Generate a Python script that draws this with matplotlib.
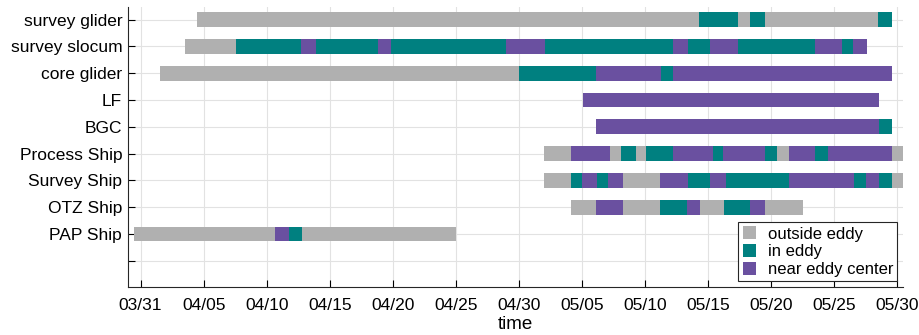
import datetime as dt
import numpy as np
import matplotlib
matplotlib.use("Agg")
import matplotlib.pyplot as plt
import matplotlib.dates as mdates
from matplotlib.patches import Patch

plt.rcParams['font.family'] = ['Liberation Sans', 'DejaVu Sans']

start_date = dt.datetime(2021, 3, 31)

platforms = ["survey glider", "survey slocum", "core glider", "LF", "BGC",
             "Process Ship", "Survey Ship", "OTZ Ship", "PAP Ship"]

# segment edges in days since 03/31, and the state of each segment
# 0 = outside eddy, 1 = in eddy, 2 = near eddy center
edges = {
    "survey glider": [4.5, 44.3, 47.4, 48.3, 49.5, 58.5, 59.6],
    "survey slocum": [3.5, 7.6, 12.7, 13.9, 18.8, 19.9, 29.0, 32.1, 42.2, 43.4,
                      45.2, 47.4, 53.5, 55.6, 56.5, 57.6],
    "core glider": [1.5, 30.0, 36.1, 41.3, 42.2, 59.6],
    "LF": [35.1, 58.6],
    "BGC": [36.1, 58.6, 59.6],
    "Process Ship": [32.0, 34.1, 37.2, 38.1, 39.3, 40.1, 42.2, 45.4, 46.2, 49.5,
                     50.5, 51.4, 53.5, 54.5, 59.6, 60.7],
    "Survey Ship": [32.0, 34.1, 35.0, 36.2, 37.1, 38.3, 41.2, 43.4, 45.2, 46.4,
                    51.4, 56.6, 57.5, 58.6, 59.6, 60.7],
    "OTZ Ship": [34.1, 36.1, 38.3, 41.2, 43.3, 44.4, 46.3, 48.3, 49.5, 52.5],
    "PAP Ship": [-0.55, 10.65, 11.8, 12.8, 25.0],
}
states = {
    "survey glider": [0, 1, 0, 1, 0, 1],
    "survey slocum": [0, 1, 2, 1, 2, 1, 2, 1, 2, 1, 2, 1, 2, 1, 2],
    "core glider": [0, 1, 2, 1, 2],
    "LF": [2],
    "BGC": [2, 1],
    "Process Ship": [0, 2, 0, 1, 0, 1, 2, 1, 2, 1, 0, 2, 1, 2, 0],
    "Survey Ship": [0, 1, 2, 1, 2, 0, 2, 1, 2, 1, 2, 1, 2, 1, 0],
    "OTZ Ship": [0, 2, 0, 1, 2, 0, 1, 2, 0],
    "PAP Ship": [0, 2, 1, 0],
}

state_names = ["outside eddy", "in eddy", "near eddy center"]
state_colors = ["#b0b0b0", "#008080", "#6a50a0"]

fig = plt.figure(figsize=(9.19, 3.35), dpi=100)
ax = fig.add_axes([0.139, 0.144, 0.844, 0.836])

base = mdates.date2num(start_date)
for row, name in enumerate(platforms, start=1):
    e = np.array(edges[name]) + base
    for k, s in enumerate(states[name]):
        ax.barh(row, e[k + 1] - e[k], left=e[k], height=0.55,
                color=state_colors[s], linewidth=0, zorder=3)

ax.set_ylim(10.97, 0.52)
ax.set_yticks(range(1, 11))
ax.set_yticklabels(platforms + [""], fontsize=12.5)

ticks = [start_date + dt.timedelta(days=5 * i) for i in range(13)]
ax.set_xticks(mdates.date2num(ticks))
ax.xaxis.set_major_formatter(mdates.DateFormatter("%m/%d"))
ax.set_xlim(base - 1.02, base + 60.5)
ax.tick_params(axis='x', labelsize=12.5, direction='in', length=5, pad=8)
ax.tick_params(axis='y', direction='in', length=5, pad=4)
ax.set_xlabel("time", fontsize=13.5, labelpad=2)

ax.grid(True, color="#e2e2e2", linewidth=0.8, zorder=0)
ax.set_axisbelow(True)
for side in ["top", "right"]:
    ax.spines[side].set_visible(False)
for side in ["left", "bottom"]:
    ax.spines[side].set_color("#262626")
    ax.spines[side].set_linewidth(0.8)

handles = [Patch(facecolor=c, edgecolor='none', label=n)
           for n, c in zip(state_names, state_colors)]
leg = ax.legend(handles=handles, loc="lower right", bbox_to_anchor=(0.992, 0.02),
                fontsize=12, fancybox=False, framealpha=1, edgecolor="#262626",
                handlelength=0.8, handleheight=0.8, handletextpad=0.7,
                borderpad=0.25, labelspacing=0.15, borderaxespad=0)
leg.get_frame().set_linewidth(0.8)

fig.savefig("out.png", dpi=100)
